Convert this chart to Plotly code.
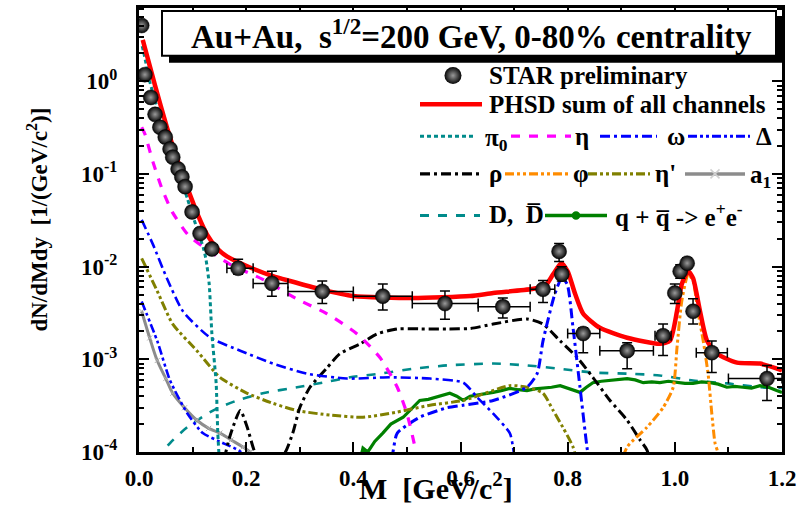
import plotly.graph_objects as go

# ---------------- STAR preliminary data ----------------
m_star = [0.005, 0.011, 0.022, 0.030, 0.039, 0.049, 0.058, 0.063, 0.073, 0.080,
          0.086, 0.099, 0.114, 0.136, 0.185, 0.248, 0.342, 0.455, 0.571, 0.679,
          0.754, 0.784, 0.789, 0.829, 0.911, 0.978, 1.000, 1.010, 1.023, 1.034,
          1.069, 1.172]
y_star = [4.0, 1.18, 0.67, 0.44, 0.32, 0.25, 0.186, 0.152, 0.113, 0.093,
          0.073, 0.039, 0.0228, 0.0155, 0.0096, 0.0066, 0.0054, 0.0048, 0.0040, 0.0037,
          0.0057, 0.0146, 0.0083, 0.0019, 0.00124, 0.0018, 0.0052, 0.0089, 0.0109, 0.0033,
          0.00118, 0.00062]
y_star_hi = [4.3, 1.26, 0.71, 0.47, 0.34, 0.265, 0.197, 0.161, 0.120, 0.099,
             0.078, 0.042, 0.0245, 0.0168, 0.0120, 0.0089, 0.0070, 0.0065, 0.00545, 0.0046,
             0.0071, 0.0178, 0.0100, 0.00219, 0.00151, 0.0024, 0.0065, 0.0105, 0.0125, 0.0045,
             0.00158, 0.00086]
y_star_lo = [3.7, 1.10, 0.63, 0.41, 0.30, 0.235, 0.175, 0.143, 0.106, 0.087,
             0.068, 0.036, 0.0211, 0.0142, 0.0083, 0.0048, 0.0040, 0.0034, 0.0027, 0.0028,
             0.0041, 0.0114, 0.0070, 0.00118, 0.00079, 0.0011, 0.0040, 0.0075, 0.0095, 0.0024,
             0.00072, 0.00036]
m_bin_lo = [0.000, 0.006, 0.017, 0.025, 0.034, 0.044, 0.053, 0.060, 0.068, 0.076,
            0.082, 0.094, 0.109, 0.126, 0.164, 0.213, 0.278, 0.400, 0.510, 0.633,
            0.730, 0.778, 0.779, 0.800, 0.860, 0.963, 0.994, 1.005, 1.018, 1.026,
            1.040, 1.100]
m_bin_hi = [0.010, 0.016, 0.027, 0.035, 0.044, 0.054, 0.063, 0.066, 0.078, 0.084,
            0.090, 0.104, 0.119, 0.146, 0.213, 0.278, 0.400, 0.510, 0.633, 0.730,
            0.776, 0.790, 0.799, 0.860, 0.960, 0.993, 1.006, 1.015, 1.028, 1.042,
            1.098, 1.200]

# ---------------- PHSD model curves ----------------
m_sum = [0.007, 0.011, 0.030, 0.052, 0.071, 0.091, 0.110, 0.127, 0.146, 0.164,
         0.202, 0.250, 0.282, 0.338, 0.400, 0.511, 0.618, 0.661, 0.733, 0.758,
         0.773, 0.788, 0.800, 0.814, 0.829, 0.860, 0.911, 0.972, 0.991, 1.004,
         1.013, 1.025, 1.034, 1.047, 1.060, 1.079, 1.116, 1.159, 1.200]
y_sum = [2.8, 2.3, 0.90, 0.32, 0.145, 0.069, 0.036, 0.0222, 0.0157, 0.0129,
         0.0101, 0.0079, 0.0070, 0.00573, 0.00482, 0.00459, 0.00482, 0.00519, 0.00573, 0.0062,
         0.0083, 0.0109, 0.0089, 0.00506, 0.0031, 0.00219, 0.00171, 0.00147, 0.00159, 0.0033,
         0.0065, 0.0089, 0.0075, 0.0033, 0.00159, 0.00115, 0.00092, 0.00090, 0.00076]

m_pi0 = [0.006, 0.010, 0.020, 0.030, 0.040, 0.050, 0.060, 0.070, 0.080, 0.090,
         0.100, 0.110, 0.120, 0.125, 0.131, 0.136, 0.144, 0.147, 0.152]
y_pi0 = [2.4, 1.9, 1.0, 0.62, 0.40, 0.27, 0.18, 0.12, 0.082, 0.055,
         0.036, 0.024, 0.016, 0.012, 0.0065, 0.0019, 0.00055, 0.000163, 0.00005]

m_eta = [0.005, 0.011, 0.026, 0.043, 0.062, 0.091, 0.119, 0.170, 0.231, 0.295,
         0.351, 0.407, 0.450, 0.482, 0.500, 0.515, 0.525]
y_eta = [0.32, 0.27, 0.135, 0.069, 0.039, 0.0222, 0.0165, 0.0106, 0.0073, 0.00447,
         0.0031, 0.00188, 0.00104, 0.0005, 0.00026, 0.000113, 0.00005]

m_omega_dal = [0.005, 0.026, 0.052, 0.082, 0.133, 0.189, 0.250, 0.314, 0.388, 0.468,
               0.543, 0.605, 0.631, 0.661, 0.692, 0.698, 0.705]
y_omega_dal = [0.032, 0.0174, 0.0075, 0.0033, 0.00171, 0.00124, 0.0009, 0.0007, 0.00062, 0.00064,
               0.00062, 0.00056, 0.00039, 0.00026, 0.00016, 0.000113, 0.00005]

m_omega = [0.465, 0.474, 0.482, 0.524, 0.575, 0.605, 0.661, 0.724, 0.743, 0.754,
           0.776, 0.789, 0.799, 0.810, 0.823, 0.836, 0.845]
y_omega = [0.00005, 0.0001, 0.00016, 0.000237, 0.0003, 0.00032, 0.00036, 0.0005, 0.0007, 0.00158,
           0.00506, 0.0075, 0.0065, 0.00219, 0.0005, 0.000113, 0.00005]

m_delta = [0.005, 0.034, 0.058, 0.090, 0.119, 0.150, 0.190, 0.210]
y_delta = [0.0042, 0.00158, 0.00059, 0.000262, 0.00016, 0.00013, 0.0001, 0.00006]

m_rho = [0.150, 0.170, 0.189, 0.202, 0.216, 0.240, 0.262, 0.273, 0.287, 0.300,
         0.319, 0.351, 0.375, 0.413, 0.444, 0.482, 0.525, 0.575, 0.618, 0.661,
         0.724, 0.754, 0.786, 0.818, 0.847, 0.879, 0.911, 0.935, 0.948, 0.960]
y_rho = [0.00005, 0.00015, 0.00028, 0.000185, 0.0001, 0.00006, 0.00009, 0.0001, 0.00016, 0.0003,
         0.0005, 0.00081, 0.00115, 0.00147, 0.00188, 0.00213, 0.00213, 0.00213, 0.00215, 0.0024,
         0.00273, 0.0024, 0.00158, 0.00104, 0.00064, 0.00036, 0.00022, 0.000135, 0.000105, 0.00005]

m_phi = [0.890, 0.911, 0.948, 0.978, 0.997, 1.004, 1.013, 1.025, 1.034, 1.043,
         1.053, 1.062, 1.069, 1.075, 1.080, 1.088]
y_phi = [0.00005, 0.000113, 0.000185, 0.0003, 0.0005, 0.00133, 0.00427, 0.0083, 0.0070, 0.0033,
         0.00158, 0.0007, 0.00026, 0.000125, 0.0001, 0.00005]

m_etap = [0.005, 0.034, 0.063, 0.108, 0.151, 0.202, 0.250, 0.295, 0.357, 0.418,
          0.482, 0.543, 0.605, 0.692, 0.724, 0.754, 0.773, 0.791, 0.810, 0.825]
y_etap = [0.0123, 0.00545, 0.0024, 0.00124, 0.00064, 0.00043, 0.000335, 0.00028, 0.00025, 0.000237,
          0.00027, 0.00032, 0.00036, 0.00052, 0.0005, 0.00043, 0.00028, 0.000185, 0.000113, 0.00005]

m_a1 = [0.005, 0.020, 0.034, 0.050, 0.063, 0.085, 0.108, 0.130, 0.151, 0.172,
        0.194, 0.207, 0.220]
y_a1 = [0.0033, 0.0017, 0.00097, 0.00062, 0.00043, 0.0003, 0.00022, 0.00018, 0.00016, 0.000135,
        0.000113, 0.0001, 0.00007]

m_dd = [0.035, 0.045, 0.058, 0.090, 0.138, 0.183, 0.231, 0.295, 0.343, 0.394,
        0.450, 0.511, 0.575, 0.661, 0.724, 0.786, 0.847, 0.911, 0.972, 1.034,
        1.097, 1.159, 1.200]
y_dd = [0.00005, 0.0001, 0.000125, 0.000185, 0.00028, 0.00036, 0.00043, 0.0005, 0.00056, 0.00064,
        0.0007, 0.00079, 0.00086, 0.0009, 0.00086, 0.00079, 0.00072, 0.0007, 0.00067, 0.00059,
        0.00055, 0.0005, 0.00049]

m_qq = [0.410, 0.418, 0.427, 0.440, 0.455, 0.470, 0.493, 0.510, 0.524, 0.540,
        0.556, 0.568, 0.580, 0.593, 0.605, 0.618, 0.631, 0.646, 0.661, 0.676,
        0.692, 0.708, 0.724, 0.739, 0.754, 0.770, 0.786, 0.804, 0.823, 0.835,
        0.847, 0.863, 0.879, 0.895, 0.911, 0.926, 0.941, 0.957, 0.972, 0.988,
        1.004, 1.019, 1.034, 1.050, 1.066, 1.081, 1.097, 1.112, 1.127, 1.143,
        1.159, 1.175, 1.190, 1.200]
y_qq = [0.00007, 0.00011, 0.0001, 0.00013, 0.00016, 0.0002, 0.000237, 0.0003, 0.00036, 0.00037,
        0.00039, 0.00041, 0.00043, 0.0004, 0.00036, 0.0004, 0.00041, 0.00043, 0.00044, 0.00046,
        0.000485, 0.00047, 0.00046, 0.00048, 0.000485, 0.0005, 0.00052, 0.00048, 0.00044, 0.0005,
        0.00056, 0.00058, 0.00059, 0.0006, 0.00062, 0.0006, 0.00056, 0.00057, 0.00056, 0.00058,
        0.00056, 0.00055, 0.00055, 0.00057, 0.00056, 0.00054, 0.0005, 0.00051, 0.0005, 0.00049,
        0.00052, 0.0005, 0.00046, 0.00044]

# ---------------- axis labels ----------------
x_tickvals = [0.0, 0.2, 0.4, 0.6, 0.8, 1.0, 1.2]
x_ticktext = ["0.0", "0.2", "0.4", "0.6", "0.8", "1.0", "1.2"]
y_tickvals = [1e-4, 1e-3, 1e-2, 1e-1, 1e0]
y_ticktext = ["10<sup>-4</sup>", "10<sup>-3</sup>", "10<sup>-2</sup>", "10<sup>-1</sup>", "10<sup>0</sup>"]
y_minor = [k * 10.0 ** e for e in range(-4, 1) for k in range(2, 10)]

# ---------------- styles ----------------
FONT = "Liberation Serif"
TEAL = "#008b8b"
MAGENTA = "#ff00ff"
BLUE = "#0000ff"
ORANGE = "#ff8c00"
OLIVE = "#808000"
GRAY = "#8c8c8c"
GREEN = "#008000"
RED = "#ff0000"

DOT = "4px,3px"
DASH = "9px,9px"
DASHDOT = "10px,4px,3px,4px"
DASHDOTDOT = "9px,3px,3px,3px,3px,3px"

# plot area in page pixels
L, R, T, B = 139, 782, 5, 452

fig = go.Figure()


def curve(m, y, color, dash, width=2.6, smooth=True):
    fig.add_trace(go.Scatter(
        x=m, y=y, mode="lines", showlegend=False, hoverinfo="skip",
        line=dict(color=color, width=width, dash=dash,
                  shape="spline" if smooth else "linear", smoothing=0.6),
    ))


curve(m_dd, y_dd, TEAL, DASH)
curve(m_qq, y_qq, GREEN, "solid", width=3.2, smooth=False)
fig.add_trace(go.Scatter(
    x=m_a1, y=y_a1, mode="lines+markers", showlegend=False, hoverinfo="skip",
    line=dict(color=GRAY, width=3, shape="spline"),
    marker=dict(symbol="x-thin", size=5, line=dict(color="#b0b0b0", width=1)),
))
curve(m_delta, y_delta, BLUE, DASHDOTDOT)
curve(m_etap, y_etap, OLIVE, DASHDOTDOT, width=3)
curve(m_rho, y_rho, "black", DASHDOT, width=3)
curve(m_phi, y_phi, ORANGE, DASHDOTDOT, width=3)
curve(m_omega_dal, y_omega_dal, BLUE, DASHDOT)
curve(m_omega, y_omega, BLUE, DASHDOT, width=3)
curve(m_eta, y_eta, MAGENTA, DASH, width=3.2)
curve(m_pi0, y_pi0, TEAL, DOT, width=3)
curve(m_sum, y_sum, RED, "solid", width=4.5)

# data with statistical errors and bin widths
fig.add_trace(go.Scatter(
    x=m_star, y=y_star, mode="markers", showlegend=False, hoverinfo="skip",
    marker=dict(symbol="circle", size=15, color="#050505",
                gradient=dict(type="radial", color="#9a9a9a"),
                line=dict(color="#000000", width=0.5)),
    error_y=dict(type="data", symmetric=False,
                 array=[h - v for h, v in zip(y_star_hi, y_star)],
                 arrayminus=[v - l for v, l in zip(y_star, y_star_lo)],
                 color="black", thickness=1.5, width=5),
    error_x=dict(type="data", symmetric=False,
                 array=[h - v for h, v in zip(m_bin_hi, m_star)],
                 arrayminus=[v - l for v, l in zip(m_star, m_bin_lo)],
                 color="black", thickness=1.5, width=5),
))

# ---------------- legend (drawn on an overlay axis in page pixels) ----------------
legend_lines = [
    # (x0, x1, y, color, dash, width, marker symbol, marker size)
    (420, 482, 102, RED, "solid", 4.5, None, 0),
    (420, 476, 134, TEAL, DOT, 3, None, 0),
    (511, 571, 134, MAGENTA, DASH, 3.2, None, 0),
    (600, 657, 134, BLUE, DASHDOT, 3, None, 0),
    (688, 750, 134, BLUE, DASHDOTDOT, 3, None, 0),
    (420, 480, 172, "black", DASHDOT, 3.2, None, 0),
    (505, 569, 172, ORANGE, DASHDOTDOT, 3.2, None, 0),
    (588, 650, 172, OLIVE, DASHDOTDOT, 3.2, None, 0),
    (685, 745, 172, GRAY, "solid", 3.5, "x-thin", 9),
    (420, 480, 214, TEAL, DASH, 3, None, 0),
    (545, 607, 214, GREEN, "solid", 3.5, "circle", 7),
]
for x0, x1, yy, col, dsh, w, sym, ms in legend_lines:
    fig.add_trace(go.Scatter(
        x=[x0, x1], y=[yy, yy], xaxis="x2", yaxis="y2", mode="lines",
        showlegend=False, hoverinfo="skip", line=dict(color=col, width=w, dash=dsh)))
    if sym:
        fig.add_trace(go.Scatter(
            x=[(x0 + x1) / 2], y=[yy], xaxis="x2", yaxis="y2", mode="markers",
            showlegend=False, hoverinfo="skip",
            marker=dict(symbol=sym, size=ms, color=col if sym == "circle" else "white",
                        line=dict(color="#d0d0d0" if sym != "circle" else col, width=1.5))))

fig.add_trace(go.Scatter(
    x=[453], y=[73], xaxis="x2", yaxis="y2", mode="markers", showlegend=False,
    hoverinfo="skip",
    marker=dict(symbol="circle", size=17, color="#050505",
                gradient=dict(type="radial", color="#9a9a9a"))))

legend_texts = [
    (487, 73, "STAR preliminary"),
    (487, 102, "PHSD sum of all channels"),
    (483, 137, "π<sub>0</sub>"),
    (573, 134, "η"),
    (665, 134, "ω"),
    (754, 134, "Δ"),
    (487, 172, "ρ"),
    (571, 172, "φ"),
    (653, 172, "η'"),
    (748, 175, "a<sub>1</sub>"),
    (487, 213, "D,  D\u0305"),
    (613, 213, "q + q\u0305 -> e<sup>+</sup>e<sup>-</sup>"),
]

annotations = []
for xx, yy, txt in legend_texts:
    annotations.append(dict(
        x=xx, y=yy, xref="x2", yref="y2", text=txt, showarrow=False,
        xanchor="left", yanchor="middle",
        font=dict(family=FONT, size=25, color="black", weight="bold")))


def px_x(p):
    return (p - L) / (R - L)


def px_y(p):
    return (B - p) / (B - T)


# header box with drop shadow
shapes = [
    dict(type="rect", xref="paper", yref="paper", layer="above",
         x0=px_x(169), x1=px_x(783), y0=px_y(60), y1=px_y(15),
         fillcolor="black", line=dict(width=0)),
    dict(type="rect", xref="paper", yref="paper", layer="above",
         x0=px_x(162), x1=px_x(776), y0=px_y(53), y1=px_y(8),
         fillcolor="white", line=dict(color="black", width=2)),
]
annotations.append(dict(
    x=px_x(471), y=px_y(31), xref="paper", yref="paper", showarrow=False,
    text="Au+Au,  s<sup>1/2</sup>=200 GeV, 0-80% centrality",
    xanchor="center", yanchor="middle",
    font=dict(family=FONT, size=33, color="black", weight="bold")))

# axis titles
annotations.append(dict(
    x=px_x(38), y=px_y(218), xref="paper", yref="paper", showarrow=False,
    text="dN/dMdy  [1/(GeV/c<sup>2</sup>)]", textangle=-90,
    xanchor="center", yanchor="middle",
    font=dict(family=FONT, size=23, color="black", weight="bold")))
annotations.append(dict(
    x=px_x(436), y=px_y(486), xref="paper", yref="paper", showarrow=False,
    text="M  [GeV/c<sup>2</sup>]",
    xanchor="center", yanchor="middle",
    font=dict(family=FONT, size=30, color="black", weight="bold")))

tickfont = dict(family=FONT, size=23, color="black", weight="bold")

fig.update_layout(
    width=810, height=505,
    margin=dict(l=L, r=810 - R, t=T, b=505 - B),
    paper_bgcolor="white", plot_bgcolor="white",
    showlegend=False,
    shapes=shapes,
    annotations=annotations,
    xaxis=dict(
        range=[0, 1.2], tickvals=x_tickvals, ticktext=x_ticktext,
        ticks="inside", ticklen=10, tickwidth=2, tickcolor="black",
        minor=dict(dtick=0.1, tick0=0, ticks="inside", ticklen=5, tickwidth=2, tickcolor="black"),
        showline=True, linewidth=3, linecolor="black", mirror="allticks",
        showgrid=False, zeroline=False, tickfont=tickfont, ticklabelstandoff=3,
    ),
    yaxis=dict(
        type="log", range=[-4, 0.791], tickvals=y_tickvals, ticktext=y_ticktext,
        ticks="inside", ticklen=10, tickwidth=2, tickcolor="black",
        minor=dict(tickvals=y_minor, ticks="inside", ticklen=5, tickwidth=2, tickcolor="black"),
        showline=True, linewidth=3, linecolor="black", mirror="allticks",
        showgrid=False, zeroline=False, tickfont=tickfont, ticklabelstandoff=14,
    ),
    xaxis2=dict(overlaying="x", range=[L, R], visible=False, fixedrange=True),
    yaxis2=dict(overlaying="y", range=[B, T], visible=False, fixedrange=True),
)

fig.write_html("out.html")
